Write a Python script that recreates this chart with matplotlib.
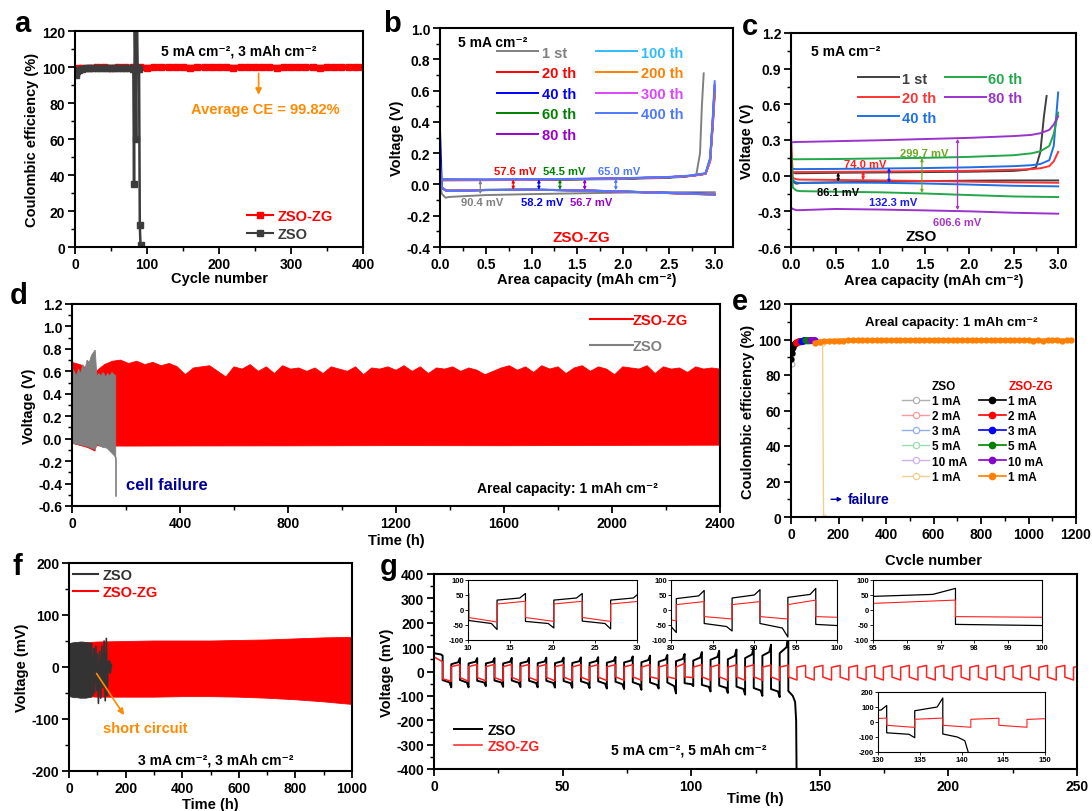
import numpy as np
import matplotlib
matplotlib.use("Agg")
import matplotlib.pyplot as plt
from matplotlib.ticker import MultipleLocator, FormatStrFormatter
from matplotlib.lines import Line2D

plt.rcParams["font.family"] = ["Liberation Sans", "DejaVu Sans"]
plt.rcParams["font.weight"] = "bold"
plt.rcParams["axes.labelweight"] = "bold"
plt.rcParams["axes.unicode_minus"] = False

# ---------------- a: CE, 5 mA cm-2 / 3 mAh cm-2 ----------------
a_zg_cycle = [1, 3, 6, 10] + list(range(20, 401, 10))
a_zg_ce = [96.5, 98.6, 99.2, 99.5,
           99.7, 99.8, 99.8, 99.7, 99.8, 99.9, 99.8, 99.8, 99.7, 99.8,
           99.8, 99.9, 99.8, 99.8, 99.7, 99.8, 99.9, 99.8, 99.8, 99.8,
           99.7, 99.8, 99.9, 99.8, 99.8, 99.8, 99.7, 99.8, 99.8, 99.9,
           99.8, 99.8, 99.7, 99.8, 99.8, 99.9, 99.8, 99.8, 99.8]
a_zso_cycle = [1, 3, 6, 10, 15, 20, 25, 30, 35, 40, 45, 50, 55, 60, 65, 70, 75, 80,
               81, 82, 83, 84, 85, 86, 87, 89, 90, 91]
a_zso_ce = [95.5, 97.8, 98.6, 99.0, 99.2, 99.3, 99.4, 99.3, 99.4, 99.5, 99.4, 99.5,
            99.4, 99.5, 99.4, 99.3, 99.5, 99.3, 99.0, 35, 130, 99.5, 60, 130, 99.2,
            98.8, 12, 1]

# ---------------- b: ZSO-ZG voltage profiles ----------------
b_cycles = ["1 st", "20 th", "40 th", "60 th", "80 th", "100 th", "200 th", "300 th", "400 th"]
b_colors = ["#808080", "#ff0000", "#0000ff", "#008000", "#9900cc",
            "#33bbff", "#ff8000", "#dd44ff", "#4f78ff"]
b_cap_plate = [0.0, 0.02, 0.06, 0.1, 0.5, 1.0, 1.5, 2.0, 2.5, 3.0]
b_v_plate = [
    [0.00, -0.06, -0.085, -0.08, -0.068, -0.062, -0.057, -0.052, -0.05, -0.05],
    [0.03, -0.02, -0.036, -0.04, -0.035, -0.033, -0.037, -0.045, -0.055, -0.065],
    [0.35, -0.02, -0.038, -0.042, -0.036, -0.034, -0.038, -0.046, -0.054, -0.062],
    [0.03, -0.02, -0.037, -0.04, -0.035, -0.034, -0.038, -0.045, -0.055, -0.064],
    [0.03, -0.02, -0.037, -0.041, -0.036, -0.034, -0.038, -0.046, -0.055, -0.063],
    [0.03, -0.02, -0.036, -0.04, -0.035, -0.033, -0.037, -0.045, -0.054, -0.063],
    [0.03, -0.02, -0.037, -0.04, -0.035, -0.034, -0.038, -0.046, -0.056, -0.066],
    [0.03, -0.02, -0.037, -0.041, -0.036, -0.034, -0.038, -0.046, -0.055, -0.064],
    [0.15, -0.02, -0.038, -0.042, -0.036, -0.034, -0.038, -0.046, -0.055, -0.065],
]
b_cap_strip_1st = [0.0, 0.5, 1.0, 1.5, 2.0, 2.5, 2.7, 2.8, 2.84, 2.86, 2.88]
b_cap_strip = [0.0, 0.5, 1.0, 1.5, 2.0, 2.5, 2.75, 2.9, 2.95, 2.98, 3.0]
b_v_strip = [
    [0.025, 0.027, 0.029, 0.031, 0.034, 0.042, 0.05, 0.065, 0.2, 0.5, 0.71],
    [0.03, 0.029, 0.031, 0.034, 0.038, 0.046, 0.055, 0.068, 0.15, 0.38, 0.57],
    [0.03, 0.029, 0.031, 0.034, 0.038, 0.046, 0.056, 0.069, 0.16, 0.42, 0.63],
    [0.03, 0.029, 0.031, 0.033, 0.037, 0.045, 0.055, 0.068, 0.15, 0.40, 0.60],
    [0.03, 0.029, 0.031, 0.034, 0.038, 0.046, 0.055, 0.068, 0.15, 0.40, 0.61],
    [0.031, 0.03, 0.032, 0.035, 0.039, 0.047, 0.056, 0.07, 0.16, 0.42, 0.62],
    [0.03, 0.029, 0.031, 0.034, 0.038, 0.046, 0.055, 0.068, 0.15, 0.39, 0.58],
    [0.031, 0.03, 0.032, 0.035, 0.039, 0.047, 0.056, 0.07, 0.16, 0.42, 0.64],
    [0.032, 0.031, 0.033, 0.036, 0.04, 0.048, 0.057, 0.072, 0.17, 0.44, 0.66],
]
b_gap_x = [0.44, 0.80, 1.08, 1.31, 1.58, 1.92]
b_gap_top = [0.028, 0.032, 0.032, 0.033, 0.034, 0.036]
b_gap_bot = [-0.062, -0.034, -0.034, -0.035, -0.036, -0.037]
b_gap_label = ["90.4 mV", "57.6 mV", "58.2 mV", "54.5 mV", "56.7 mV", "65.0 mV"]
b_gap_color = ["#808080", "#ff0000", "#0000ff", "#008000", "#9900cc", "#4f78ff"]

# ---------------- c: ZSO voltage profiles ----------------
c_cycles = ["1 st", "20 th", "40 th", "60 th", "80 th"]
c_colors = ["#404040", "#ff3333", "#1f6fe5", "#22a84a", "#9933cc"]
c_cap_plate = [0.0, 0.02, 0.06, 0.1, 0.5, 1.0, 1.5, 2.0, 2.5, 3.0]
c_v_plate = [
    [0.03, -0.05, -0.068, -0.062, -0.056, -0.05, -0.046, -0.042, -0.04, -0.04],
    [0.35, -0.02, -0.03, -0.033, -0.036, -0.04, -0.045, -0.05, -0.056, -0.06],
    [0.05, -0.04, -0.058, -0.06, -0.058, -0.06, -0.066, -0.075, -0.085, -0.09],
    [0.20, -0.10, -0.125, -0.13, -0.135, -0.14, -0.15, -0.163, -0.175, -0.18],
    [-0.27, -0.28, -0.29, -0.29, -0.28, -0.285, -0.292, -0.30, -0.312, -0.32],
]
c_cap_strip_1st = [0.0, 0.05, 0.5, 1.0, 1.5, 2.0, 2.5, 2.65, 2.75, 2.8, 2.84, 2.87]
c_cap_strip = [0.0, 0.05, 0.5, 1.0, 1.5, 2.0, 2.5, 2.7, 2.8, 2.9, 2.95, 3.0]
c_v_strip = [
    [0.03, 0.02, 0.024, 0.027, 0.03, 0.033, 0.04, 0.05, 0.07, 0.2, 0.5, 0.67],
    [0.03, 0.03, 0.032, 0.035, 0.038, 0.041, 0.05, 0.055, 0.062, 0.08, 0.12, 0.2],
    [0.06, 0.055, 0.057, 0.06, 0.064, 0.07, 0.08, 0.088, 0.098, 0.13, 0.25, 0.7],
    [0.14, 0.138, 0.14, 0.145, 0.15, 0.158, 0.172, 0.188, 0.205, 0.25, 0.35, 0.53],
    [0.28, 0.283, 0.29, 0.298, 0.308, 0.318, 0.333, 0.343, 0.357, 0.385, 0.43, 0.5],
]
c_gap_x = [0.53, 0.81, 1.10, 1.47, 1.87]
c_gap_top = [0.027, 0.036, 0.066, 0.148, 0.31]
c_gap_bot = [-0.052, -0.039, -0.061, -0.145, -0.29]
c_gap_label = ["86.1 mV", "74.0 mV", "132.3 mV", "299.7 mV", "606.6 mV"]
c_gap_color = ["#000000", "#ff2020", "#1a1aff", "#6aaa22", "#aa33cc"]

# ---------------- d: long cycling 1 mAh cm-2 ----------------
d_zg_t = list(range(0, 2401, 30))
d_zg_upper = [0.68, 0.66, 0.62, 0.60, 0.66, 0.69, 0.70, 0.67, 0.69, 0.66,
              0.68, 0.65, 0.67, 0.64, 0.57, 0.63, 0.64, 0.65, 0.60, 0.55,
              0.64, 0.62, 0.66, 0.60, 0.64, 0.58, 0.65, 0.62, 0.63, 0.60,
              0.63, 0.58, 0.64, 0.62, 0.60, 0.64, 0.57, 0.63, 0.62, 0.64,
              0.61, 0.65, 0.60, 0.64, 0.58, 0.63, 0.62, 0.64, 0.60, 0.63,
              0.61, 0.57, 0.60, 0.63, 0.65, 0.61, 0.64, 0.59, 0.65, 0.62,
              0.64, 0.58, 0.63, 0.65, 0.60, 0.64, 0.62, 0.57, 0.64, 0.63,
              0.62, 0.65, 0.58, 0.64, 0.62, 0.63, 0.59, 0.64, 0.62, 0.63,
              0.62]
d_zg_low_t = [0, 30, 60, 85, 90, 100, 200, 400, 800, 1200, 1600, 2000, 2400]
d_zg_lower = [-0.04, -0.06, -0.08, -0.11, -0.06, -0.065, -0.066, -0.065, -0.064,
              -0.062, -0.063, -0.06, -0.058]
d_zso_t = [0, 8, 16, 24, 32, 40, 48, 56, 64, 72, 80, 86, 92, 100, 108, 116, 124,
           132, 140, 148, 156, 162]
d_zso_upper = [0.63, 0.60, 0.56, 0.62, 0.58, 0.66, 0.62, 0.70, 0.68, 0.74, 0.77,
               0.79, 0.56, 0.58, 0.56, 0.59, 0.55, 0.58, 0.56, 0.59, 0.57, 0.56]
d_zso_lower = [-0.04, -0.045, -0.05, -0.05, -0.055, -0.06, -0.065, -0.07, -0.075,
               -0.085, -0.09, -0.10, -0.05, -0.06, -0.07, -0.08, -0.08, -0.09,
               -0.11, -0.13, -0.15, -0.17]
d_zso_fail_t = [162, 163, 163]
d_zso_fail_v = [-0.17, -0.2, -0.51]

# ---------------- e: rate CE ----------------
e_rates = ["1 mA", "2 mA", "3 mA", "5 mA", "10 mA", "1 mA"]
e_zg_colors = ["#000000", "#ff0000", "#0000ff", "#008000", "#8800cc", "#ff8000"]
e_zso_colors = ["#b0b0b0", "#ff9999", "#8fb0f0", "#99ddb0", "#d0b0f0", "#f0d090"]
e_zg_cyc = [list(range(1, 20, 2)), list(range(21, 40, 2)), list(range(41, 60, 2)),
            list(range(61, 80, 2)), list(range(81, 100, 2)), list(range(101, 1201, 20))]
e_zg_ce = [
    [89, 92.5, 94.5, 96, 96.8, 97.2, 97.5, 97.8, 98.0, 98.2],
    [98.3, 98.5, 98.6, 98.7, 98.8, 98.9, 98.9, 99.0, 99.0, 99.1],
    [99.2, 99.3, 99.3, 99.4, 99.4, 99.5, 99.5, 99.5, 99.6, 99.6],
    [99.5, 99.6, 99.6, 99.7, 99.7, 99.7, 99.7, 99.8, 99.8, 99.8],
    [99.7, 99.8, 99.8, 99.8, 99.9, 99.9, 99.9, 99.9, 99.9, 99.9],
    [98.2, 98.8, 99.0, 99.2, 99.3, 99.4, 99.4, 99.5, 99.5, 99.5,
     99.6, 99.5, 99.6, 99.5, 99.6, 99.6, 99.5, 99.6, 99.6, 99.5,
     99.6, 99.6, 99.5, 99.6, 99.6, 99.5, 99.6, 99.6, 99.6, 99.5,
     99.6, 99.6, 99.5, 99.6, 99.6, 99.6, 99.5, 99.6, 99.6, 99.5,
     99.6, 99.6, 99.6, 99.5, 99.6, 99.7, 99.4, 99.8, 99.3, 99.7,
     99.5, 99.8, 99.3, 99.6, 99.5],
]
e_zso_cyc = [list(range(1, 20, 2)), list(range(21, 40, 2)), list(range(41, 60, 2)),
             list(range(61, 80, 2)), list(range(81, 100, 2)),
             [101, 105, 109, 113, 117, 121, 125, 129, 133, 137]]
e_zso_ce = [
    [88, 86, 92, 95, 96, 96.5, 97, 97.3, 97.6, 97.8],
    [98.0, 98.2, 98.3, 98.4, 98.5, 98.5, 98.6, 98.6, 98.7, 98.7],
    [98.8, 98.9, 99.0, 99.0, 99.1, 99.1, 99.1, 99.2, 99.2, 99.2],
    [99.2, 99.3, 99.3, 99.3, 99.4, 99.4, 99.4, 99.4, 99.5, 99.5],
    [99.4, 99.5, 99.5, 99.5, 99.6, 99.6, 99.6, 99.6, 99.6, 99.6],
    [98.3, 98.5, 98.6, 98.6, 98.7, 98.6, 98.5, 98.4, 98.2, 0],
]

# ---------------- f: 3 mA cm-2 / 3 mAh cm-2 ----------------
f_zg_t = [0, 40, 100, 200, 300, 400, 500, 600, 700, 800, 900, 1000]
f_zg_upper = [44, 46, 48, 49, 50, 50, 50, 51, 52, 54, 56, 57]
f_zg_lower = [-54, -56, -58, -58, -58, -57, -57, -58, -60, -63, -67, -72]
f_zso_t = [0, 10, 20, 30, 40, 50, 60, 70, 80]
f_zso_upper = [44, 46, 47, 47, 48, 48, 47, 46, 45]
f_zso_lower = [-56, -58, -59, -59, -60, -60, -60, -59, -58]
f_sc_t = [80, 84, 88, 90, 95, 98, 100, 104, 108, 112, 116, 120, 124, 128, 132,
          135, 138, 140, 143, 146, 150]
f_sc_v = [45, -55, 35, -50, 40, -45, 25, -70, 30, -60, 40, -40, 50, -65, 55,
          -55, 10, -10, 12, -12, 5]

# ---------------- g: 5 mA cm-2 / 5 mAh cm-2 ----------------
g_half_h = 3.36
g_knee_frac = 0.8
g_start_v = 120
g_zso_pos_start = [75, 30, 33, 33, 33, 34, 34, 34, 35, 35, 36, 37, 38, 40, 42, 45, 48,
                   50, 55, 65, 75]
g_zso_pos_knee = [70, 38, 40, 40, 40, 41, 41, 42, 42, 43, 44, 45, 47, 50, 52, 57, 60,
                  64, 70, 80, 100]
g_zso_pos_end = [65, 55, 55, 55, 56, 56, 57, 57, 58, 59, 60, 62, 65, 68, 72, 80, 85,
                 90, 100, 110, 160]
g_zso_neg_start = [-35, -35, -38, -37, -37, -38, -38, -39, -40, -40, -42, -44, -45,
                   -45, -48, -55, -58, -62, -68, -72]
g_zso_neg_knee = [-45, -45, -45, -45, -46, -47, -47, -48, -49, -50, -52, -54, -55,
                  -60, -52, -63, -67, -72, -78, -82]
g_zso_neg_end = [-65, -65, -60, -63, -64, -65, -66, -67, -68, -70, -72, -75, -70,
                 -90, -60, -82, -88, -95, -100, -105]
g_zso_fail_t = [137.76, 139.5, 140.4, 140.8, 141.0]
g_zso_fail_v = [-80, -100, -125, -200, -450]
g_zg_pos_start = [60, 20, 20, 20, 20, 20, 20, 20, 19, 19, 19, 19, 18, 18, 18, 18, 18,
                  18, 18, 18, 18, 18, 17, 17, 17, 17, 17, 17, 17, 17, 17, 17, 17, 17,
                  17, 17, 17, 17]
g_zg_pos_end = [40, 28, 29, 29, 29, 29, 29, 28, 28, 28, 28, 28, 28, 28, 33, 28, 28,
                27, 27, 26, 26, 25, 25, 25, 25, 25, 25, 25, 25, 25, 25, 25, 25, 25,
                25, 25, 25, 25]
g_zg_neg_start = [-30, -25, -25, -25, -24, -24, -24, -23, -23, -23, -22, -22, -22,
                  -22, -22, -22, -22, -22, -22, -22, -22, -22, -23, -23, -23, -23,
                  -23, -23, -23, -23, -23, -23, -23, -23, -23, -23, -23]
g_zg_neg_end = [-40, -40, -38, -38, -38, -38, -38, -37, -37, -37, -36, -36, -30,
                -30, -25, -36, -36, -36, -36, -36, -35, -35, -35, -35, -35, -35,
                -35, -35, -35, -35, -35, -35, -35, -35, -35, -35, -35]

ORANGE = "#ff8a00"
NAVY = "#000099"

fig = plt.figure(figsize=(10.92, 8.12), dpi=100)


def px_axes(l, t, r, b):
    return fig.add_axes([l / 1092, 1 - b / 812, (r - l) / 1092, (b - t) / 812])


def style(ax, xmaj, xmin, ymaj, ymin, size=10, lw=1.5, tl=5):
    ax.xaxis.set_major_locator(MultipleLocator(xmaj))
    ax.xaxis.set_minor_locator(MultipleLocator(xmin))
    ax.yaxis.set_major_locator(MultipleLocator(ymaj))
    ax.yaxis.set_minor_locator(MultipleLocator(ymin))
    ax.tick_params(which="major", direction="out", length=tl, width=lw * 0.85,
                   labelsize=size, pad=2)
    ax.tick_params(which="minor", direction="out", length=tl * 0.6, width=lw * 0.7)
    for s in ax.spines.values():
        s.set_linewidth(lw)


def square_wave(pos_s, pos_e, neg_s, neg_e, half, v0, pos_k=None, neg_k=None):
    # galvanostatic steps: positive half then negative half, one value set each
    xs, ys = [0.0], [v0]
    kx = half * g_knee_frac
    for k in range(len(pos_s)):
        t0 = 2 * k * half
        xs.append(t0)
        ys.append(pos_s[k])
        if pos_k is not None:
            xs.append(t0 + kx)
            ys.append(pos_k[k])
        xs.append(t0 + half)
        ys.append(pos_e[k])
        if k < len(neg_s):
            xs.append(t0 + half)
            ys.append(neg_s[k])
            if neg_k is not None:
                xs.append(t0 + half + kx)
                ys.append(neg_k[k])
            xs.append(t0 + 2 * half)
            ys.append(neg_e[k])
    return xs, ys


# ================= a =================
ax = px_axes(75, 32, 363, 248)
la, = ax.plot(a_zg_cycle, a_zg_ce, "-s", color="#ff0000", ms=5, lw=4, label="ZSO-ZG")
lb, = ax.plot(a_zso_cycle, a_zso_ce, "-s", color="#3c3c3c", ms=5, lw=1.8, label="ZSO")
ax.set_xlim(0, 400)
ax.set_ylim(0, 120)
style(ax, 100, 50, 20, 10)
ax.set_xlabel("Cycle number", fontsize=10.5, labelpad=0)
ax.set_ylabel("Coulombic efficiency (%)", fontsize=10.5, labelpad=2)
ax.text(228, 109, "5 mA cm⁻², 3 mAh cm⁻²", ha="center", va="center", fontsize=10)
ax.annotate("", xy=(255, 83), xytext=(255, 98),
            arrowprops=dict(arrowstyle="-|>", color=ORANGE, lw=1.2, mutation_scale=9))
ax.text(264, 76.5, "Average CE = 99.82%", ha="center", va="center", fontsize=10.5,
        color=ORANGE)
ax.legend(handles=[Line2D([], [], color="#ff0000", marker="s", ms=5, lw=1.5, label="ZSO-ZG"),
                   Line2D([], [], color="#3c3c3c", marker="s", ms=5, lw=1.5, label="ZSO")],
          loc="upper left", bbox_to_anchor=(0.597, 0.175),
          frameon=False, fontsize=10.5, handlelength=1.8, handletextpad=0.3,
          labelspacing=0.25, borderpad=0, borderaxespad=0, labelcolor="linecolor")

# ================= b =================
ax = px_axes(440, 29, 733, 248)
hb = []
for i, (lab, col) in enumerate(zip(b_cycles, b_colors)):
    caps = b_cap_strip_1st if i == 0 else b_cap_strip
    ax.plot(b_cap_plate, b_v_plate[i], color=col, lw=1.4)
    h, = ax.plot(caps, b_v_strip[i], color=col, lw=1.4, label=lab)
    hb.append(h)
for x, y1, y2, lab, col in zip(b_gap_x, b_gap_top, b_gap_bot, b_gap_label, b_gap_color):
    ax.annotate("", xy=(x, y1), xytext=(x, y2),
                arrowprops=dict(arrowstyle="<|-|>", color=col, lw=0.9, mutation_scale=4,
                                shrinkA=0, shrinkB=0))
b_lab_pos = [(0.46, -0.115), (0.82, 0.083), (1.12, -0.115), (1.36, 0.083),
             (1.65, -0.115), (1.96, 0.083)]
for (tx, ty), lab, col in zip(b_lab_pos, b_gap_label, b_gap_color):
    ax.text(tx, ty, lab, ha="center", va="center", fontsize=8, color=col)
ax.text(1.54, -0.335, "ZSO-ZG", ha="center", va="center", fontsize=11, color="#ff0000")
ax.text(0.2, 0.91, "5 mA cm⁻²", ha="left", va="center", fontsize=10)
ax.set_xlim(0, 3.2)
ax.set_ylim(-0.4, 1.0)
style(ax, 0.5, 0.25, 0.2, 0.1)
ax.xaxis.set_major_formatter(FormatStrFormatter("%.1f"))
ax.yaxis.set_major_formatter(FormatStrFormatter("%.1f"))
ax.set_xlabel("Area capacity (mAh cm⁻²)", fontsize=10.5, labelpad=1)
ax.set_ylabel("Voltage (V)", fontsize=10.5, labelpad=2)
ax.legend(handles=hb, ncol=2, loc="upper left", bbox_to_anchor=(0.195, 0.92),
          frameon=False, fontsize=10.5, handlelength=2.8, handletextpad=0.25,
          columnspacing=1.4, labelspacing=0.45, borderpad=0, borderaxespad=0,
          labelcolor="linecolor")

# ================= c =================
ax = px_axes(791, 34, 1076, 248)
hc = []
for i, (lab, col) in enumerate(zip(c_cycles, c_colors)):
    caps = c_cap_strip_1st if i == 0 else c_cap_strip
    ax.plot(c_cap_plate, c_v_plate[i], color=col, lw=1.4)
    h, = ax.plot(caps, c_v_strip[i], color=col, lw=1.4, label=lab)
    hc.append(h)
for x, y1, y2, col in zip(c_gap_x, c_gap_top, c_gap_bot, c_gap_color):
    ax.annotate("", xy=(x, y1), xytext=(x, y2),
                arrowprops=dict(arrowstyle="<|-|>", color=col, lw=0.9, mutation_scale=4,
                                shrinkA=0, shrinkB=0))
c_lab_pos = [(0.53, -0.135), (0.83, 0.10), (1.15, -0.225), (1.50, 0.19), (1.87, -0.39)]
for (tx, ty), lab, col in zip(c_lab_pos, c_gap_label, c_gap_color):
    ax.text(tx, ty, lab, ha="center", va="center", fontsize=8, color=col)
ax.text(1.46, -0.51, "ZSO", ha="center", va="center", fontsize=11)
ax.text(0.22, 1.05, "5 mA cm⁻²", ha="left", va="center", fontsize=10)
ax.set_xlim(0, 3.2)
ax.set_ylim(-0.6, 1.2)
style(ax, 0.5, 0.25, 0.3, 0.15)
ax.xaxis.set_major_formatter(FormatStrFormatter("%.1f"))
ax.yaxis.set_major_formatter(FormatStrFormatter("%.1f"))
ax.set_xlabel("Area capacity (mAh cm⁻²)", fontsize=10.5, labelpad=2)
ax.set_ylabel("Voltage (V)", fontsize=10.5, labelpad=2)
ax.legend(handles=hc, ncol=2, loc="upper left", bbox_to_anchor=(0.235, 0.82),
          frameon=False, fontsize=10.5, handlelength=2.8, handletextpad=0.2,
          columnspacing=0.6, labelspacing=0.38, borderpad=0, borderaxespad=0,
          labelcolor="linecolor")

# ================= d =================
ax = px_axes(72, 305, 720, 507)
ax.fill(d_zg_t + d_zg_low_t[::-1], d_zg_upper + d_zg_lower[::-1], color="#ff0000",
        lw=0.6, ec="#ff0000")
ax.fill(d_zso_t + d_zso_t[::-1], d_zso_upper + d_zso_lower[::-1], color="#808080",
        lw=0.6, ec="#808080")
ax.plot(d_zso_fail_t, d_zso_fail_v, color="#808080", lw=1.2)
hd = [Line2D([], [], color="#ff0000", lw=1.5, label="ZSO-ZG"),
      Line2D([], [], color="#808080", lw=1.5, label="ZSO")]
ax.legend(handles=hd, loc="upper left", bbox_to_anchor=(0.80, 0.955), frameon=False,
          fontsize=10.5, handlelength=2.9, handletextpad=0.0, labelspacing=0.8,
          borderpad=0, borderaxespad=0, labelcolor="linecolor")
ax.text(200, -0.41, "cell failure", ha="left", va="center", fontsize=12, color=NAVY)
ax.text(1500, -0.44, "Areal capacity: 1 mAh cm⁻²", ha="left", va="center", fontsize=10)
ax.set_xlim(0, 2400)
ax.set_ylim(-0.6, 1.2)
style(ax, 400, 200, 0.2, 0.1)
ax.yaxis.set_major_formatter(FormatStrFormatter("%.1f"))
ax.set_xlabel("Time (h)", fontsize=10.5, labelpad=2)
ax.set_ylabel("Voltage (V)", fontsize=10.5, labelpad=2)

# ================= e =================
ax = px_axes(791, 305, 1076, 518)
he_zso, he_zg = [], []
for cyc, ce, col, lab in zip(e_zso_cyc, e_zso_ce, e_zso_colors, e_rates):
    ax.plot(cyc, ce, "-o", color=col, mfc="white", ms=3.5, mew=0.8, lw=1)
    he_zso.append(Line2D([], [], color=col, marker="o", mfc="white", ms=4.5, mew=0.9,
                         lw=1, label=lab))
for cyc, ce, col, lab in zip(e_zg_cyc, e_zg_ce, e_zg_colors, e_rates):
    ax.plot(cyc, ce, "-o", color=col, ms=3.5, lw=3 if col == "#ff8000" else 1.5)
    he_zg.append(Line2D([], [], color=col, marker="o", ms=4.5, lw=1.2, label=lab))
blank1 = Line2D([], [], ls="none", label="ZSO")
blank2 = Line2D([], [], ls="none", label="ZSO-ZG")
leg = ax.legend(handles=[blank1] + he_zso + [blank2] + he_zg, ncol=2, loc="upper left",
                bbox_to_anchor=(0.39, 0.645), frameon=False, fontsize=8.5,
                handlelength=2.3, handletextpad=0.2, columnspacing=1.0,
                labelspacing=0.27, borderpad=0, borderaxespad=0)
for t in leg.get_texts():
    t.set_color("black")
leg.get_texts()[7].set_color("#ff0000")
ax.annotate("", xy=(227, 10), xytext=(157, 10),
            arrowprops=dict(arrowstyle="-|>", color=NAVY, lw=1, mutation_scale=6))
ax.text(240, 10, "failure", ha="left", va="center", fontsize=10, color=NAVY)
ax.text(674, 110, "Areal capacity: 1 mAh cm⁻²", ha="center", va="center", fontsize=9.5)
ax.set_xlim(0, 1200)
ax.set_ylim(0, 120)
style(ax, 200, 100, 20, 10)
ax.set_xlabel("Cvcle number", fontsize=10.5, labelpad=9)
ax.set_ylabel("Coulombic efficiency (%)", fontsize=10.5, labelpad=2)

# ================= f =================
ax = px_axes(69, 564, 352, 772)
ax.fill(f_zg_t + f_zg_t[::-1], f_zg_upper + f_zg_lower[::-1], color="#ff0000", lw=0.6)
ax.fill(f_zso_t + f_zso_t[::-1], f_zso_upper + f_zso_lower[::-1], color="#333333",
        lw=0.6)
ax.plot(f_sc_t, f_sc_v, color="#333333", lw=1.2)
hf = [Line2D([], [], color="#333333", lw=1.5, label="ZSO"),
      Line2D([], [], color="#ff0000", lw=1.5, label="ZSO-ZG")]
ax.legend(handles=hf, loc="upper left", bbox_to_anchor=(0.014, 0.975), frameon=False,
          fontsize=10.5, handlelength=1.7, handletextpad=0.35, labelspacing=0.22,
          borderpad=0, borderaxespad=0, labelcolor="linecolor")
ax.annotate("", xy=(200, -97), xytext=(92, -8),
            arrowprops=dict(arrowstyle="-|>", color=ORANGE, lw=1.2, mutation_scale=9))
ax.text(270, -117, "short circuit", ha="center", va="center", fontsize=10.5,
        color=ORANGE)
ax.text(519, -177, "3 mA cm⁻², 3 mAh cm⁻²", ha="center", va="center", fontsize=10)
ax.set_xlim(0, 1000)
ax.set_ylim(-200, 200)
style(ax, 200, 100, 100, 50)
ax.set_xlabel("Time (h)", fontsize=10.5, labelpad=2)
ax.set_ylabel("Voltage (mV)", fontsize=10.5, labelpad=2)

# ================= g =================
zso_x, zso_y = square_wave(g_zso_pos_start, g_zso_pos_end, g_zso_neg_start,
                           g_zso_neg_end, g_half_h, g_start_v,
                           g_zso_pos_knee, g_zso_neg_knee)
zso_x += g_zso_fail_t
zso_y += g_zso_fail_v
zg_x, zg_y = square_wave(g_zg_pos_start, g_zg_pos_end, g_zg_neg_start, g_zg_neg_end,
                         g_half_h, g_start_v)

ax = px_axes(434, 575, 1077, 770)
hg1, = ax.plot(zso_x, zso_y, color="#000000", lw=1.4, label="ZSO")
hg2, = ax.plot(zg_x, zg_y, color="#ff2020", lw=1.1, label="ZSO-ZG")
ax.legend(handles=[hg1, hg2], loc="upper left", bbox_to_anchor=(0.031, 0.235),
          frameon=False, fontsize=10, handlelength=2.0, handletextpad=0.4,
          labelspacing=0.15, borderpad=0, borderaxespad=0, labelcolor="linecolor")
ax.text(69, -322, "5 mA cm⁻², 5 mAh cm⁻²", ha="left", va="center", fontsize=10)
ax.set_xlim(0, 250)
ax.set_ylim(-400, 400)
style(ax, 50, 25, 100, 50)
ax.set_xlabel("Time (h)", fontsize=10.5, labelpad=-1)
ax.set_ylabel("Voltage (mV)", fontsize=10.5, labelpad=2)

g_insets = [((468, 581, 637, 641), (10, 30), 5, (-100, 100), 50),
            ((671, 581, 837, 641), (80, 100), 5, (-100, 100), 50),
            ((873, 581, 1042, 641), (95, 100), 1, (-100, 100), 50),
            ((878, 693, 1045, 753), (130, 150), 5, (-200, 200), 100)]
for box, xl, xs, yl, ys in g_insets:
    ins = px_axes(*box)
    ins.plot(zso_x, zso_y, color="#000000", lw=0.9)
    ins.plot(zg_x, zg_y, color="#ff2020", lw=0.8)
    ins.set_xlim(*xl)
    ins.set_ylim(*yl)
    ins.xaxis.set_major_locator(MultipleLocator(xs))
    ins.yaxis.set_major_locator(MultipleLocator(ys))
    ins.tick_params(direction="out", length=2, width=0.6, labelsize=5.5, pad=1)
    for s in ins.spines.values():
        s.set_linewidth(0.8)

# panel letters
for lab, (px, py) in zip("abcdefg", [(14, 32), (383, 32), (742, 35), (10, 304),
                                     (732, 310), (12, 575), (380, 575)]):
    fig.text(px / 1092, 1 - py / 812, lab, fontsize=21, fontweight="bold",
             ha="left", va="baseline")

fig.savefig("out.png", dpi=100)
